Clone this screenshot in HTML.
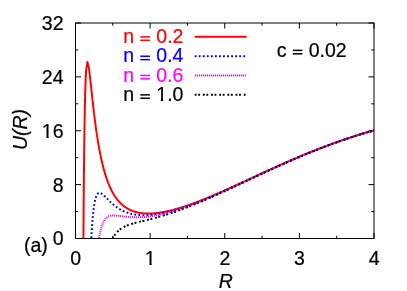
<!DOCTYPE html>
<html><head><meta charset="utf-8"><title>U(R)</title>
<style>html,body{margin:0;padding:0;background:#fff}body{width:407px;height:291px;overflow:hidden}svg{will-change:transform}text{stroke-width:0.22px;paint-order:stroke}</style></head>
<body>
<svg width="407" height="291" viewBox="0 0 407 291" style="display:block;font-family:'Liberation Sans',sans-serif;font-size:19.5px">
<rect width="407" height="291" fill="#fff"/>
<defs><clipPath id="cp"><rect x="75.5" y="23.0" width="298.5" height="216.0"/></clipPath><clipPath id="c1"><path d="M-1 -16H12V-2.1H6.9V1H4.64V-2.1H-1Z"/></clipPath></defs>
<path d="M75.50 238.50 v-5.50 M75.50 23.00 v5.50 M112.81 238.50 v-2.75 M112.81 23.00 v2.75 M150.12 238.50 v-5.50 M150.12 23.00 v5.50 M187.44 238.50 v-2.75 M187.44 23.00 v2.75 M224.75 238.50 v-5.50 M224.75 23.00 v5.50 M262.06 238.50 v-2.75 M262.06 23.00 v2.75 M299.38 238.50 v-5.50 M299.38 23.00 v5.50 M336.69 238.50 v-2.75 M336.69 23.00 v2.75 M374.00 238.50 v-5.50 M374.00 23.00 v5.50 M75.50 238.50 h5.50 M374.00 238.50 h-5.50 M75.50 211.56 h2.75 M374.00 211.56 h-2.75 M75.50 184.62 h5.50 M374.00 184.62 h-5.50 M75.50 157.69 h2.75 M374.00 157.69 h-2.75 M75.50 130.75 h5.50 M374.00 130.75 h-5.50 M75.50 103.81 h2.75 M374.00 103.81 h-2.75 M75.50 76.88 h5.50 M374.00 76.88 h-5.50 M75.50 49.94 h2.75 M374.00 49.94 h-2.75 M75.50 23.00 h5.50 M374.00 23.00 h-5.50" stroke="#000" stroke-width="1" fill="none"/>
<g clip-path="url(#cp)" fill="none" stroke-width="2" stroke-linejoin="round">
<path d="M83.42 239.03 L83.46 233.48 L83.49 228.08 L83.53 222.84 L83.57 217.74 L83.61 212.78 L83.64 207.96 L83.68 203.28 L83.72 198.73 L83.76 194.30 L83.79 190.00 L83.83 185.82 L83.87 181.76 L83.90 177.81 L83.94 173.97 L83.98 170.24 L84.02 166.61 L84.05 163.09 L84.09 159.66 L84.13 156.34 L84.17 153.11 L84.20 149.97 L84.24 146.92 L84.28 143.95 L84.32 141.07 L84.35 138.28 L84.39 135.56 L84.43 132.92 L84.47 130.36 L84.50 127.88 L84.54 125.46 L84.58 123.12 L84.62 120.84 L84.65 118.63 L84.69 116.49 L84.73 114.41 L84.76 112.39 L84.80 110.44 L84.84 108.54 L84.88 106.70 L84.91 104.91 L84.95 103.18 L84.99 101.50 L85.03 99.88 L85.06 98.30 L85.10 96.78 L85.14 95.30 L85.18 93.87 L85.21 92.48 L85.25 91.14 L85.29 89.84 L85.33 88.58 L85.36 87.37 L85.40 86.19 L85.44 85.06 L85.47 83.96 L85.51 82.90 L85.55 81.87 L85.59 80.88 L85.62 79.93 L85.66 79.01 L85.70 78.12 L85.74 77.26 L85.77 76.44 L85.81 75.65 L85.85 74.88 L85.89 74.15 L85.92 73.44 L85.96 72.76 L86.00 72.11 L86.04 71.48 L86.07 70.88 L87.38 61.97 L88.69 66.70 L88.73 66.94 L88.77 67.18 L88.80 67.43 L88.84 67.68 L88.88 67.94 L88.91 68.20 L88.95 68.46 L88.99 68.72 L89.03 68.99 L89.06 69.27 L89.10 69.54 L89.14 69.82 L89.18 70.10 L89.21 70.38 L89.25 70.67 L89.29 70.96 L89.33 71.25 L89.36 71.55 L89.40 71.84 L89.44 72.14 L89.48 72.44 L89.51 72.75 L89.55 73.05 L89.59 73.36 L89.62 73.67 L89.66 73.98 L89.70 74.30 L89.74 74.61 L89.77 74.93 L89.81 75.25 L89.85 75.57 L89.89 75.89 L89.92 76.21 L89.96 76.54 L90.00 76.87 L90.04 77.19 L90.07 77.52 L90.11 77.85 L90.15 78.18 L90.19 78.51 L90.22 78.85 L90.26 79.18 L90.30 79.52 L90.34 79.85 L90.37 80.19 L90.41 80.53 L90.45 80.87 L90.48 81.21 L90.52 81.55 L90.56 81.89 L90.60 82.23 L90.63 82.57 L90.67 82.91 L90.71 83.26 L90.75 83.60 L90.78 83.94 L90.82 84.29 L90.86 84.63 L90.90 84.98 L90.93 85.33 L90.97 85.67 L91.01 86.02 L91.05 86.36 L91.08 86.71 L91.12 87.06 L91.16 87.40 L91.20 87.75 L91.23 88.10 L91.27 88.44 L91.31 88.79 L91.34 89.14 L91.38 89.49 L91.42 89.83 L91.46 90.18 L91.49 90.53 L91.53 90.87 L91.57 91.22 L91.61 91.57 L91.64 91.92 L91.68 92.26 L91.72 92.61 L91.76 92.95 L91.79 93.30 L91.83 93.65 L91.87 93.99 L91.91 94.34 L91.94 94.68 L91.98 95.02 L92.02 95.37 L92.06 95.71 L92.09 96.06 L92.13 96.40 L92.17 96.74 L92.20 97.08 L92.24 97.42 L92.28 97.77 L92.32 98.11 L92.35 98.45 L92.39 98.79 L92.43 99.13 L92.47 99.47 L92.50 99.80 L92.54 100.14 L92.58 100.48 L92.62 100.82 L92.65 101.15 L92.69 101.49 L92.73 101.82 L92.77 102.16 L92.80 102.49 L92.84 102.83 L92.88 103.16 L92.91 103.49 L92.95 103.82 L92.99 104.15 L93.03 104.48 L93.06 104.81 L93.10 105.14 L93.14 105.47 L93.18 105.80 L93.21 106.13 L93.25 106.45 L93.29 106.78 L93.33 107.10 L93.36 107.43 L93.40 107.75 L93.44 108.08 L93.48 108.40 L93.51 108.72 L93.55 109.04 L93.59 109.36 L93.63 109.68 L93.66 110.00 L93.70 110.32 L93.74 110.63 L93.77 110.95 L93.81 111.27 L93.85 111.58 L93.89 111.89 L93.92 112.21 L93.96 112.52 L94.00 112.83 L94.04 113.14 L94.07 113.45 L94.11 113.76 L94.15 114.07 L94.19 114.38 L94.22 114.69 L94.26 114.99 L94.30 115.30 L94.34 115.60 L94.37 115.91 L94.41 116.21 L94.45 116.51 L94.49 116.82 L94.52 117.12 L94.56 117.42 L94.60 117.72 L94.63 118.01 L94.67 118.31 L94.71 118.61 L94.75 118.90 L94.78 119.20 L94.82 119.49 L94.86 119.79 L94.90 120.08 L94.93 120.37 L94.97 120.66 L95.01 120.95 L95.05 121.24 L95.08 121.53 L95.12 121.82 L95.16 122.11 L95.20 122.39 L95.23 122.68 L95.27 122.96 L95.31 123.25 L95.35 123.53 L95.38 123.81 L95.42 124.09 L95.46 124.37 L95.49 124.65 L95.53 124.93 L95.57 125.21 L95.61 125.49 L95.64 125.76 L95.68 126.04 L95.72 126.32 L95.76 126.59 L95.79 126.86 L95.83 127.13 L95.87 127.41 L95.91 127.68 L95.94 127.95 L95.98 128.22 L96.02 128.48 L96.06 128.75 L96.09 129.02 L96.13 129.28 L96.17 129.55 L96.21 129.81 L96.24 130.08 L96.28 130.34 L96.32 130.60 L96.35 130.86 L96.39 131.12 L96.43 131.38 L96.47 131.64 L96.50 131.90 L96.54 132.16 L96.58 132.41 L96.62 132.67 L96.65 132.92 L96.69 133.18 L96.73 133.43 L96.77 133.68 L96.80 133.93 L96.84 134.18 L96.88 134.43 L96.92 134.68 L96.95 134.93 L96.99 135.18 L97.03 135.43 L97.06 135.67 L97.10 135.92 L97.14 136.16 L97.18 136.41 L97.21 136.65 L97.25 136.89 L97.29 137.13 L97.33 137.37 L97.36 137.61 L97.40 137.85 L97.44 138.09 L97.48 138.33 L97.51 138.57 L97.55 138.80 L97.59 139.04 L97.63 139.27 L97.66 139.51 L97.70 139.74 L97.74 139.97 L97.78 140.20 L97.81 140.43 L97.85 140.66 L97.89 140.89 L98.08 142.03 L98.26 143.16 L98.45 144.26 L98.64 145.34 L98.83 146.41 L99.01 147.46 L99.20 148.50 L99.39 149.52 L99.58 150.52 L99.76 151.50 L99.95 152.47 L100.14 153.43 L100.33 154.36 L100.51 155.29 L100.70 156.20 L100.89 157.09 L101.08 157.97 L101.26 158.83 L101.45 159.69 L101.64 160.52 L101.83 161.35 L102.01 162.16 L102.20 162.96 L102.39 163.74 L102.58 164.51 L102.76 165.27 L102.95 166.02 L103.14 166.76 L103.33 167.48 L103.51 168.20 L103.70 168.90 L103.89 169.59 L104.08 170.27 L104.26 170.94 L104.45 171.60 L104.64 172.25 L104.83 172.89 L105.01 173.51 L105.20 174.13 L105.39 174.74 L105.58 175.34 L105.76 175.93 L105.95 176.52 L106.14 177.09 L106.33 177.65 L106.51 178.21 L106.70 178.75 L106.89 179.29 L107.08 179.82 L107.26 180.34 L107.45 180.86 L107.64 181.37 L107.83 181.86 L108.01 182.36 L108.20 182.84 L108.39 183.32 L108.58 183.79 L108.76 184.25 L108.95 184.71 L109.14 185.15 L109.32 185.60 L109.51 186.03 L109.70 186.46 L109.89 186.88 L110.08 187.30 L110.26 187.71 L110.45 188.12 L110.64 188.52 L110.82 188.91 L111.01 189.30 L111.20 189.68 L111.39 190.05 L111.58 190.42 L111.76 190.79 L111.95 191.15 L112.14 191.50 L112.33 191.85 L112.51 192.20 L112.70 192.54 L112.89 192.87 L113.07 193.20 L113.26 193.53 L113.45 193.85 L113.64 194.16 L113.83 194.48 L114.01 194.78 L114.20 195.09 L114.39 195.38 L114.57 195.68 L114.76 195.97 L114.95 196.25 L115.14 196.54 L115.33 196.81 L115.51 197.09 L115.70 197.36 L115.89 197.63 L116.07 197.89 L116.26 198.15 L116.45 198.40 L116.64 198.65 L116.82 198.90 L117.01 199.15 L117.20 199.39 L117.39 199.63 L117.58 199.86 L117.76 200.09 L117.95 200.32 L118.14 200.54 L118.33 200.77 L118.51 200.98 L118.70 201.20 L118.89 201.41 L119.08 201.62 L119.26 201.83 L119.45 202.03 L119.64 202.23 L119.82 202.43 L120.01 202.63 L120.20 202.82 L120.39 203.01 L120.57 203.20 L120.76 203.38 L120.95 203.56 L121.14 203.74 L121.33 203.92 L121.51 204.09 L121.70 204.27 L121.89 204.43 L122.08 204.60 L122.26 204.77 L122.45 204.93 L122.64 205.09 L122.83 205.25 L123.01 205.40 L123.20 205.56 L123.39 205.71 L123.57 205.86 L123.76 206.00 L123.95 206.15 L124.14 206.29 L124.32 206.43 L124.51 206.57 L124.70 206.71 L124.89 206.84 L125.08 206.98 L125.26 207.11 L125.45 207.24 L125.64 207.36 L125.83 207.49 L126.01 207.61 L126.20 207.73 L126.39 207.85 L126.57 207.97 L126.76 208.09 L126.95 208.20 L127.14 208.31 L127.32 208.43 L127.51 208.54 L127.70 208.64 L127.89 208.75 L128.07 208.85 L128.26 208.96 L128.45 209.06 L128.64 209.16 L128.82 209.26 L129.01 209.35 L129.20 209.45 L129.39 209.54 L129.57 209.64 L129.76 209.73 L129.95 209.82 L130.14 209.91 L130.32 209.99 L130.51 210.08 L130.70 210.16 L130.89 210.24 L131.07 210.33 L131.26 210.41 L131.45 210.48 L131.64 210.56 L131.82 210.64 L132.01 210.71 L132.20 210.79 L132.39 210.86 L132.57 210.93 L132.76 211.00 L132.95 211.07 L133.14 211.14 L133.32 211.20 L133.51 211.27 L133.70 211.33 L133.89 211.40 L134.07 211.46 L134.26 211.52 L134.45 211.58 L134.64 211.64 L134.82 211.69 L135.01 211.75 L135.20 211.80 L136.20 212.08 L137.20 212.33 L138.20 212.55 L139.20 212.75 L140.20 212.92 L141.19 213.07 L142.19 213.19 L143.19 213.30 L144.19 213.38 L145.19 213.45 L146.19 213.50 L147.19 213.53 L148.19 213.54 L149.19 213.54 L150.19 213.52 L151.19 213.49 L152.19 213.44 L153.18 213.38 L154.18 213.30 L155.18 213.21 L156.18 213.11 L157.18 213.00 L158.18 212.88 L159.18 212.74 L160.18 212.59 L161.18 212.44 L162.18 212.27 L163.18 212.10 L164.18 211.91 L165.17 211.72 L166.17 211.52 L167.17 211.30 L168.17 211.08 L169.17 210.86 L170.17 210.62 L171.17 210.38 L172.17 210.13 L173.17 209.87 L174.17 209.61 L175.17 209.34 L176.17 209.06 L177.16 208.77 L178.16 208.48 L179.16 208.19 L180.16 207.89 L181.16 207.58 L182.16 207.27 L183.16 206.95 L184.16 206.62 L185.16 206.29 L186.16 205.96 L187.16 205.62 L188.16 205.28 L189.15 204.93 L190.15 204.58 L191.15 204.22 L192.15 203.86 L193.15 203.50 L194.15 203.13 L195.15 202.76 L196.15 202.38 L197.15 202.00 L198.15 201.62 L199.15 201.23 L200.15 200.84 L201.14 200.45 L202.14 200.05 L203.14 199.65 L204.14 199.25 L205.14 198.85 L206.14 198.44 L207.14 198.03 L208.14 197.61 L209.14 197.20 L210.14 196.78 L211.14 196.36 L212.14 195.94 L213.13 195.51 L214.13 195.08 L215.13 194.65 L216.13 194.22 L217.13 193.79 L218.13 193.35 L219.13 192.92 L220.13 192.48 L221.13 192.04 L222.13 191.60 L223.13 191.15 L224.13 190.71 L225.12 190.26 L226.12 189.81 L227.12 189.36 L228.12 188.91 L229.12 188.46 L230.12 188.01 L231.12 187.56 L232.12 187.10 L233.12 186.65 L234.12 186.19 L235.12 185.73 L236.12 185.28 L237.11 184.82 L238.11 184.36 L239.11 183.90 L240.11 183.44 L241.11 182.98 L242.11 182.52 L243.11 182.06 L244.11 181.59 L245.11 181.13 L246.11 180.67 L247.11 180.21 L248.11 179.75 L249.10 179.28 L250.10 178.82 L251.10 178.36 L252.10 177.89 L253.10 177.43 L254.10 176.97 L255.10 176.51 L256.10 176.05 L257.10 175.58 L258.10 175.12 L259.10 174.66 L260.10 174.20 L261.09 173.74 L262.09 173.28 L263.09 172.82 L264.09 172.36 L265.09 171.90 L266.09 171.44 L267.09 170.99 L268.09 170.53 L269.09 170.08 L270.09 169.62 L271.09 169.17 L272.09 168.71 L273.08 168.26 L274.08 167.81 L275.08 167.36 L276.08 166.91 L277.08 166.46 L278.08 166.01 L279.08 165.56 L280.08 165.12 L281.08 164.67 L282.08 164.23 L283.08 163.78 L284.08 163.34 L285.07 162.90 L286.07 162.46 L287.07 162.03 L288.07 161.59 L289.07 161.15 L290.07 160.72 L291.07 160.29 L292.07 159.85 L293.07 159.42 L294.07 158.99 L295.07 158.57 L296.07 158.14 L297.06 157.72 L298.06 157.29 L299.06 156.87 L300.06 156.45 L301.06 156.03 L302.06 155.62 L303.06 155.20 L304.06 154.79 L305.06 154.37 L306.06 153.96 L307.06 153.55 L308.06 153.15 L309.05 152.74 L310.05 152.34 L311.05 151.93 L312.05 151.53 L313.05 151.13 L314.05 150.74 L315.05 150.34 L316.05 149.95 L317.05 149.55 L318.05 149.16 L319.05 148.77 L320.05 148.39 L321.04 148.00 L322.04 147.62 L323.04 147.24 L324.04 146.86 L325.04 146.48 L326.04 146.10 L327.04 145.73 L328.04 145.35 L329.04 144.98 L330.04 144.62 L331.04 144.25 L332.04 143.88 L333.03 143.52 L334.03 143.16 L335.03 142.80 L336.03 142.44 L337.03 142.09 L338.03 141.73 L339.03 141.38 L340.03 141.03 L341.03 140.68 L342.03 140.34 L343.03 139.99 L344.03 139.65 L345.02 139.31 L346.02 138.97 L347.02 138.64 L348.02 138.30 L349.02 137.97 L350.02 137.64 L351.02 137.31 L352.02 136.98 L353.02 136.66 L354.02 136.34 L355.02 136.01 L356.02 135.70 L357.01 135.38 L358.01 135.06 L359.01 134.75 L360.01 134.44 L361.01 134.13 L362.01 133.82 L363.01 133.52 L364.01 133.21 L365.01 132.91 L366.01 132.61 L367.01 132.32 L368.01 132.02 L369.00 131.73 L370.00 131.43 L371.00 131.14 L372.00 130.86 L373.00 130.57 L374.00 130.29" stroke="#ff0000"/>
<path d="M91.12 242.11 L91.16 241.34 L91.20 240.59 L91.23 239.85 L91.27 239.12 L91.31 238.40 L91.34 237.70 L91.38 237.00 L91.42 236.31 L91.46 235.63 L91.49 234.96 L91.53 234.29 L91.57 233.64 L91.61 233.00 L91.64 232.37 L91.68 231.74 L91.72 231.13 L91.76 230.52 L91.79 229.92 L91.83 229.33 L91.87 228.75 L91.91 228.17 L91.94 227.61 L91.98 227.05 L92.02 226.50 L92.06 225.95 L92.09 225.42 L92.13 224.89 L92.17 224.37 L92.20 223.86 L92.24 223.35 L92.28 222.85 L92.32 222.36 L92.35 221.88 L92.39 221.40 L92.43 220.93 L92.47 220.46 L92.50 220.01 L92.54 219.55 L92.58 219.11 L92.62 218.67 L92.65 218.24 L92.69 217.81 L92.73 217.39 L92.77 216.98 L92.80 216.57 L92.84 216.17 L92.88 215.77 L92.91 215.38 L92.95 214.99 L92.99 214.61 L93.03 214.24 L93.06 213.87 L93.10 213.50 L93.14 213.14 L93.18 212.79 L93.21 212.44 L93.25 212.10 L93.29 211.76 L93.33 211.42 L93.36 211.09 L93.40 210.77 L93.44 210.45 L93.48 210.13 L93.51 209.82 L93.55 209.52 L93.59 209.22 L93.63 208.92 L93.66 208.63 L93.70 208.34 L93.74 208.05 L93.77 207.77 L93.81 207.50 L93.85 207.22 L93.89 206.96 L93.92 206.69 L93.96 206.43 L94.00 206.18 L94.04 205.92 L94.07 205.67 L94.11 205.43 L94.15 205.19 L94.19 204.95 L94.22 204.72 L94.26 204.49 L94.30 204.26 L94.34 204.03 L94.37 203.81 L94.41 203.60 L94.45 203.38 L94.49 203.17 L94.52 202.96 L94.56 202.76 L94.60 202.56 L94.63 202.36 L94.67 202.17 L94.71 201.98 L94.75 201.79 L94.78 201.60 L94.82 201.42 L94.86 201.24 L94.90 201.06 L94.93 200.89 L94.97 200.71 L95.01 200.54 L95.05 200.38 L95.08 200.21 L95.12 200.05 L95.16 199.90 L95.20 199.74 L95.23 199.59 L95.27 199.44 L95.31 199.29 L95.35 199.14 L95.38 199.00 L95.42 198.86 L95.46 198.72 L95.49 198.58 L95.53 198.45 L95.57 198.31 L95.61 198.18 L95.64 198.06 L95.68 197.93 L95.72 197.81 L95.76 197.69 L95.79 197.57 L95.83 197.45 L95.87 197.34 L95.91 197.22 L95.94 197.11 L95.98 197.00 L96.02 196.90 L96.06 196.79 L96.09 196.69 L96.13 196.59 L96.17 196.49 L96.21 196.39 L96.24 196.29 L96.28 196.20 L96.32 196.11 L96.35 196.02 L96.39 195.93 L96.43 195.84 L96.47 195.75 L96.50 195.67 L96.54 195.59 L96.58 195.51 L96.62 195.43 L96.65 195.35 L96.69 195.28 L96.73 195.20 L96.77 195.13 L96.80 195.06 L96.84 194.99 L96.88 194.92 L96.92 194.85 L96.95 194.79 L96.99 194.72 L97.03 194.66 L97.06 194.60 L97.10 194.54 L97.14 194.48 L97.18 194.42 L97.21 194.36 L97.25 194.31 L97.29 194.26 L97.33 194.20 L97.36 194.15 L97.40 194.10 L97.44 194.05 L97.48 194.01 L97.51 193.96 L97.55 193.92 L97.59 193.87 L97.63 193.83 L97.66 193.79 L97.70 193.75 L97.74 193.71 L97.78 193.67 L97.81 193.63 L97.85 193.59 L97.89 193.56 L98.08 193.40 L98.26 193.26 L98.45 193.15 L98.64 193.05 L98.83 192.98 L99.01 192.93 L99.20 192.89 L99.39 192.87 L99.58 192.87 L99.76 192.88 L99.95 192.90 L100.14 192.94 L100.33 192.99 L100.51 193.05 L100.70 193.12 L100.89 193.20 L101.08 193.30 L101.26 193.39 L101.45 193.50 L101.64 193.62 L101.83 193.74 L102.01 193.87 L102.20 194.00 L102.39 194.14 L102.58 194.29 L102.76 194.44 L102.95 194.59 L103.14 194.75 L103.33 194.91 L103.51 195.08 L103.70 195.25 L103.89 195.42 L104.08 195.60 L104.26 195.77 L104.45 195.95 L104.64 196.14 L104.83 196.32 L105.01 196.50 L105.20 196.69 L105.39 196.88 L105.58 197.07 L105.76 197.26 L105.95 197.45 L106.14 197.64 L106.33 197.83 L106.51 198.02 L106.70 198.21 L106.89 198.40 L107.08 198.59 L107.26 198.79 L107.45 198.98 L107.64 199.17 L107.83 199.36 L108.01 199.55 L108.20 199.74 L108.39 199.93 L108.58 200.12 L108.76 200.31 L108.95 200.49 L109.14 200.68 L109.32 200.87 L109.51 201.05 L109.70 201.23 L109.89 201.42 L110.08 201.60 L110.26 201.78 L110.45 201.96 L110.64 202.14 L110.82 202.31 L111.01 202.49 L111.20 202.67 L111.39 202.84 L111.58 203.01 L111.76 203.18 L111.95 203.35 L112.14 203.52 L112.33 203.69 L112.51 203.85 L112.70 204.02 L112.89 204.18 L113.07 204.34 L113.26 204.50 L113.45 204.66 L113.64 204.82 L113.83 204.97 L114.01 205.13 L114.20 205.28 L114.39 205.43 L114.57 205.58 L114.76 205.73 L114.95 205.88 L115.14 206.03 L115.33 206.17 L115.51 206.31 L115.70 206.46 L115.89 206.60 L116.07 206.73 L116.26 206.87 L116.45 207.01 L116.64 207.14 L116.82 207.28 L117.01 207.41 L117.20 207.54 L117.39 207.67 L117.58 207.79 L117.76 207.92 L117.95 208.04 L118.14 208.17 L118.33 208.29 L118.51 208.41 L118.70 208.53 L118.89 208.65 L119.08 208.76 L119.26 208.88 L119.45 208.99 L119.64 209.11 L119.82 209.22 L120.01 209.33 L120.20 209.44 L120.39 209.54 L120.57 209.65 L120.76 209.75 L120.95 209.86 L121.14 209.96 L121.33 210.06 L121.51 210.16 L121.70 210.26 L121.89 210.36 L122.08 210.45 L122.26 210.55 L122.45 210.64 L122.64 210.73 L122.83 210.82 L123.01 210.91 L123.20 211.00 L123.39 211.09 L123.57 211.18 L123.76 211.26 L123.95 211.34 L124.14 211.43 L124.32 211.51 L124.51 211.59 L124.70 211.67 L124.89 211.75 L125.08 211.83 L125.26 211.90 L125.45 211.98 L125.64 212.05 L125.83 212.12 L126.01 212.20 L126.20 212.27 L126.39 212.34 L126.57 212.41 L126.76 212.47 L126.95 212.54 L127.14 212.61 L127.32 212.67 L127.51 212.74 L127.70 212.80 L127.89 212.86 L128.07 212.92 L128.26 212.98 L128.45 213.04 L128.64 213.10 L128.82 213.16 L129.01 213.21 L129.20 213.27 L129.39 213.32 L129.57 213.37 L129.76 213.43 L129.95 213.48 L130.14 213.53 L130.32 213.58 L130.51 213.63 L130.70 213.68 L130.89 213.72 L131.07 213.77 L131.26 213.81 L131.45 213.86 L131.64 213.90 L131.82 213.95 L132.01 213.99 L132.20 214.03 L132.39 214.07 L132.57 214.11 L132.76 214.15 L132.95 214.19 L133.14 214.22 L133.32 214.26 L133.51 214.30 L133.70 214.33 L133.89 214.36 L134.07 214.40 L134.26 214.43 L134.45 214.46 L134.64 214.49 L134.82 214.52 L135.01 214.55 L135.20 214.58 L136.20 214.72 L137.20 214.85 L138.20 214.95 L139.20 215.03 L140.20 215.10 L141.19 215.15 L142.19 215.19 L143.19 215.20 L144.19 215.21 L145.19 215.20 L146.19 215.17 L147.19 215.13 L148.19 215.08 L149.19 215.01 L150.19 214.94 L151.19 214.85 L152.19 214.75 L153.18 214.64 L154.18 214.51 L155.18 214.38 L156.18 214.24 L157.18 214.08 L158.18 213.92 L159.18 213.75 L160.18 213.57 L161.18 213.38 L162.18 213.18 L163.18 212.97 L164.18 212.76 L165.17 212.54 L166.17 212.31 L167.17 212.07 L168.17 211.83 L169.17 211.58 L170.17 211.32 L171.17 211.05 L172.17 210.78 L173.17 210.50 L174.17 210.22 L175.17 209.93 L176.17 209.64 L177.16 209.34 L178.16 209.03 L179.16 208.72 L180.16 208.40 L181.16 208.08 L182.16 207.75 L183.16 207.42 L184.16 207.08 L185.16 206.74 L186.16 206.40 L187.16 206.05 L188.16 205.69 L189.15 205.34 L190.15 204.97 L191.15 204.61 L192.15 204.24 L193.15 203.86 L194.15 203.48 L195.15 203.10 L196.15 202.72 L197.15 202.33 L198.15 201.94 L199.15 201.55 L200.15 201.15 L201.14 200.75 L202.14 200.34 L203.14 199.94 L204.14 199.53 L205.14 199.12 L206.14 198.70 L207.14 198.29 L208.14 197.87 L209.14 197.45 L210.14 197.02 L211.14 196.60 L212.14 196.17 L213.13 195.74 L214.13 195.31 L215.13 194.87 L216.13 194.44 L217.13 194.00 L218.13 193.56 L219.13 193.12 L220.13 192.67 L221.13 192.23 L222.13 191.78 L223.13 191.34 L224.13 190.89 L225.12 190.44 L226.12 189.99 L227.12 189.53 L228.12 189.08 L229.12 188.63 L230.12 188.17 L231.12 187.71 L232.12 187.26 L233.12 186.80 L234.12 186.34 L235.12 185.88 L236.12 185.42 L237.11 184.96 L238.11 184.50 L239.11 184.03 L240.11 183.57 L241.11 183.11 L242.11 182.65 L243.11 182.18 L244.11 181.72 L245.11 181.25 L246.11 180.79 L247.11 180.33 L248.11 179.86 L249.10 179.40 L250.10 178.93 L251.10 178.47 L252.10 178.00 L253.10 177.54 L254.10 177.07 L255.10 176.61 L256.10 176.15 L257.10 175.68 L258.10 175.22 L259.10 174.76 L260.10 174.29 L261.09 173.83 L262.09 173.37 L263.09 172.91 L264.09 172.45 L265.09 171.99 L266.09 171.53 L267.09 171.07 L268.09 170.61 L269.09 170.16 L270.09 169.70 L271.09 169.24 L272.09 168.79 L273.08 168.34 L274.08 167.88 L275.08 167.43 L276.08 166.98 L277.08 166.53 L278.08 166.08 L279.08 165.63 L280.08 165.19 L281.08 164.74 L282.08 164.29 L283.08 163.85 L284.08 163.41 L285.07 162.97 L286.07 162.53 L287.07 162.09 L288.07 161.65 L289.07 161.21 L290.07 160.78 L291.07 160.34 L292.07 159.91 L293.07 159.48 L294.07 159.05 L295.07 158.62 L296.07 158.20 L297.06 157.77 L298.06 157.35 L299.06 156.92 L300.06 156.50 L301.06 156.08 L302.06 155.67 L303.06 155.25 L304.06 154.84 L305.06 154.42 L306.06 154.01 L307.06 153.60 L308.06 153.19 L309.05 152.79 L310.05 152.38 L311.05 151.98 L312.05 151.58 L313.05 151.18 L314.05 150.78 L315.05 150.38 L316.05 149.99 L317.05 149.59 L318.05 149.20 L319.05 148.81 L320.05 148.43 L321.04 148.04 L322.04 147.66 L323.04 147.27 L324.04 146.89 L325.04 146.52 L326.04 146.14 L327.04 145.76 L328.04 145.39 L329.04 145.02 L330.04 144.65 L331.04 144.28 L332.04 143.92 L333.03 143.55 L334.03 143.19 L335.03 142.83 L336.03 142.48 L337.03 142.12 L338.03 141.77 L339.03 141.41 L340.03 141.06 L341.03 140.71 L342.03 140.37 L343.03 140.02 L344.03 139.68 L345.02 139.34 L346.02 139.00 L347.02 138.67 L348.02 138.33 L349.02 138.00 L350.02 137.67 L351.02 137.34 L352.02 137.01 L353.02 136.69 L354.02 136.36 L355.02 136.04 L356.02 135.72 L357.01 135.40 L358.01 135.09 L359.01 134.78 L360.01 134.46 L361.01 134.16 L362.01 133.85 L363.01 133.54 L364.01 133.24 L365.01 132.94 L366.01 132.64 L367.01 132.34 L368.01 132.04 L369.00 131.75 L370.00 131.46 L371.00 131.17 L372.00 130.88 L373.00 130.59 L374.00 130.31" stroke="#0000ff" stroke-dasharray="1.8 2.25"/>
<path d="M98.45 242.03 L98.64 240.76 L98.83 239.55 L99.01 238.39 L99.20 237.28 L99.39 236.23 L99.58 235.22 L99.76 234.25 L99.95 233.33 L100.14 232.46 L100.33 231.62 L100.51 230.82 L100.70 230.05 L100.89 229.32 L101.08 228.62 L101.26 227.96 L101.45 227.32 L101.64 226.71 L101.83 226.13 L102.01 225.58 L102.20 225.05 L102.39 224.54 L102.58 224.06 L102.76 223.60 L102.95 223.16 L103.14 222.74 L103.33 222.35 L103.51 221.96 L103.70 221.60 L103.89 221.25 L104.08 220.92 L104.26 220.61 L104.45 220.31 L104.64 220.02 L104.83 219.75 L105.01 219.49 L105.20 219.25 L105.39 219.01 L105.58 218.79 L105.76 218.58 L105.95 218.38 L106.14 218.19 L106.33 218.00 L106.51 217.83 L106.70 217.67 L106.89 217.51 L107.08 217.37 L107.26 217.23 L107.45 217.10 L107.64 216.97 L107.83 216.86 L108.01 216.75 L108.20 216.64 L108.39 216.54 L108.58 216.45 L108.76 216.36 L108.95 216.28 L109.14 216.21 L109.32 216.14 L109.51 216.07 L109.70 216.01 L109.89 215.95 L110.08 215.90 L110.26 215.85 L110.45 215.80 L110.64 215.76 L110.82 215.72 L111.01 215.69 L111.20 215.65 L111.39 215.62 L111.58 215.60 L111.76 215.58 L111.95 215.55 L112.14 215.54 L112.33 215.52 L112.51 215.51 L112.70 215.50 L112.89 215.49 L113.07 215.48 L113.26 215.48 L113.45 215.47 L113.64 215.47 L113.83 215.47 L114.01 215.47 L114.20 215.48 L114.39 215.48 L114.57 215.49 L114.76 215.50 L114.95 215.50 L115.14 215.52 L115.33 215.53 L115.51 215.54 L115.70 215.55 L115.89 215.57 L116.07 215.58 L116.26 215.60 L116.45 215.61 L116.64 215.63 L116.82 215.65 L117.01 215.67 L117.20 215.69 L117.39 215.71 L117.58 215.73 L117.76 215.75 L117.95 215.77 L118.14 215.79 L118.33 215.81 L118.51 215.84 L118.70 215.86 L118.89 215.88 L119.08 215.91 L119.26 215.93 L119.45 215.95 L119.64 215.98 L119.82 216.00 L120.01 216.03 L120.20 216.05 L120.39 216.08 L120.57 216.10 L120.76 216.13 L120.95 216.15 L121.14 216.18 L121.33 216.20 L121.51 216.23 L121.70 216.25 L121.89 216.28 L122.08 216.30 L122.26 216.32 L122.45 216.35 L122.64 216.37 L122.83 216.40 L123.01 216.42 L123.20 216.45 L123.39 216.47 L123.57 216.49 L123.76 216.52 L123.95 216.54 L124.14 216.56 L124.32 216.59 L124.51 216.61 L124.70 216.63 L124.89 216.65 L125.08 216.68 L125.26 216.70 L125.45 216.72 L125.64 216.74 L125.83 216.76 L126.01 216.78 L126.20 216.80 L126.39 216.82 L126.57 216.84 L126.76 216.86 L126.95 216.88 L127.14 216.90 L127.32 216.92 L127.51 216.94 L127.70 216.95 L127.89 216.97 L128.07 216.99 L128.26 217.00 L128.45 217.02 L128.64 217.04 L128.82 217.05 L129.01 217.07 L129.20 217.08 L129.39 217.10 L129.57 217.11 L129.76 217.13 L129.95 217.14 L130.14 217.15 L130.32 217.16 L130.51 217.18 L130.70 217.19 L130.89 217.20 L131.07 217.21 L131.26 217.22 L131.45 217.23 L131.64 217.24 L131.82 217.25 L132.01 217.26 L132.20 217.27 L132.39 217.28 L132.57 217.29 L132.76 217.30 L132.95 217.30 L133.14 217.31 L133.32 217.32 L133.51 217.32 L133.70 217.33 L133.89 217.33 L134.07 217.34 L134.26 217.34 L134.45 217.35 L134.64 217.35 L134.82 217.35 L135.01 217.36 L135.20 217.36 L136.20 217.37 L137.20 217.36 L138.20 217.35 L139.20 217.32 L140.20 217.28 L141.19 217.24 L142.19 217.18 L143.19 217.11 L144.19 217.03 L145.19 216.94 L146.19 216.84 L147.19 216.74 L148.19 216.62 L149.19 216.49 L150.19 216.36 L151.19 216.21 L152.19 216.06 L153.18 215.90 L154.18 215.73 L155.18 215.55 L156.18 215.36 L157.18 215.17 L158.18 214.97 L159.18 214.76 L160.18 214.54 L161.18 214.32 L162.18 214.09 L163.18 213.85 L164.18 213.61 L165.17 213.36 L166.17 213.10 L167.17 212.84 L168.17 212.57 L169.17 212.29 L170.17 212.01 L171.17 211.73 L172.17 211.44 L173.17 211.14 L174.17 210.84 L175.17 210.53 L176.17 210.22 L177.16 209.90 L178.16 209.58 L179.16 209.25 L180.16 208.92 L181.16 208.58 L182.16 208.24 L183.16 207.89 L184.16 207.54 L185.16 207.19 L186.16 206.83 L187.16 206.47 L188.16 206.11 L189.15 205.74 L190.15 205.36 L191.15 204.99 L192.15 204.61 L193.15 204.23 L194.15 203.84 L195.15 203.45 L196.15 203.06 L197.15 202.66 L198.15 202.26 L199.15 201.86 L200.15 201.45 L201.14 201.05 L202.14 200.64 L203.14 200.22 L204.14 199.81 L205.14 199.39 L206.14 198.97 L207.14 198.55 L208.14 198.12 L209.14 197.69 L210.14 197.26 L211.14 196.83 L212.14 196.40 L213.13 195.96 L214.13 195.53 L215.13 195.09 L216.13 194.65 L217.13 194.21 L218.13 193.76 L219.13 193.32 L220.13 192.87 L221.13 192.42 L222.13 191.97 L223.13 191.52 L224.13 191.07 L225.12 190.61 L226.12 190.16 L227.12 189.70 L228.12 189.25 L229.12 188.79 L230.12 188.33 L231.12 187.87 L232.12 187.41 L233.12 186.95 L234.12 186.49 L235.12 186.03 L236.12 185.56 L237.11 185.10 L238.11 184.63 L239.11 184.17 L240.11 183.70 L241.11 183.24 L242.11 182.77 L243.11 182.31 L244.11 181.84 L245.11 181.38 L246.11 180.91 L247.11 180.44 L248.11 179.98 L249.10 179.51 L250.10 179.04 L251.10 178.58 L252.10 178.11 L253.10 177.64 L254.10 177.18 L255.10 176.71 L256.10 176.25 L257.10 175.78 L258.10 175.32 L259.10 174.85 L260.10 174.39 L261.09 173.92 L262.09 173.46 L263.09 173.00 L264.09 172.54 L265.09 172.08 L266.09 171.62 L267.09 171.16 L268.09 170.70 L269.09 170.24 L270.09 169.78 L271.09 169.32 L272.09 168.87 L273.08 168.41 L274.08 167.96 L275.08 167.51 L276.08 167.05 L277.08 166.60 L278.08 166.15 L279.08 165.70 L280.08 165.25 L281.08 164.81 L282.08 164.36 L283.08 163.92 L284.08 163.47 L285.07 163.03 L286.07 162.59 L287.07 162.15 L288.07 161.71 L289.07 161.27 L290.07 160.84 L291.07 160.40 L292.07 159.97 L293.07 159.54 L294.07 159.11 L295.07 158.68 L296.07 158.25 L297.06 157.83 L298.06 157.40 L299.06 156.98 L300.06 156.56 L301.06 156.14 L302.06 155.72 L303.06 155.30 L304.06 154.89 L305.06 154.47 L306.06 154.06 L307.06 153.65 L308.06 153.24 L309.05 152.83 L310.05 152.43 L311.05 152.02 L312.05 151.62 L313.05 151.22 L314.05 150.82 L315.05 150.43 L316.05 150.03 L317.05 149.64 L318.05 149.25 L319.05 148.86 L320.05 148.47 L321.04 148.08 L322.04 147.70 L323.04 147.31 L324.04 146.93 L325.04 146.55 L326.04 146.18 L327.04 145.80 L328.04 145.43 L329.04 145.06 L330.04 144.69 L331.04 144.32 L332.04 143.95 L333.03 143.59 L334.03 143.23 L335.03 142.87 L336.03 142.51 L337.03 142.15 L338.03 141.80 L339.03 141.45 L340.03 141.09 L341.03 140.75 L342.03 140.40 L343.03 140.05 L344.03 139.71 L345.02 139.37 L346.02 139.03 L347.02 138.69 L348.02 138.36 L349.02 138.03 L350.02 137.70 L351.02 137.37 L352.02 137.04 L353.02 136.71 L354.02 136.39 L355.02 136.07 L356.02 135.75 L357.01 135.43 L358.01 135.12 L359.01 134.80 L360.01 134.49 L361.01 134.18 L362.01 133.87 L363.01 133.57 L364.01 133.26 L365.01 132.96 L366.01 132.66 L367.01 132.36 L368.01 132.07 L369.00 131.77 L370.00 131.48 L371.00 131.19 L372.00 130.90 L373.00 130.61 L374.00 130.33" stroke="#ff00ff" stroke-dasharray="1.05 0.95"/>
<path d="M110.82 242.53 L111.01 242.07 L111.20 241.63 L111.39 241.20 L111.58 240.77 L111.76 240.36 L111.95 239.96 L112.14 239.57 L112.33 239.19 L112.51 238.82 L112.70 238.46 L112.89 238.10 L113.07 237.76 L113.26 237.42 L113.45 237.10 L113.64 236.78 L113.83 236.47 L114.01 236.16 L114.20 235.87 L114.39 235.58 L114.57 235.30 L114.76 235.02 L114.95 234.76 L115.14 234.49 L115.33 234.24 L115.51 233.99 L115.70 233.74 L115.89 233.51 L116.07 233.27 L116.26 233.05 L116.45 232.82 L116.64 232.61 L116.82 232.40 L117.01 232.19 L117.20 231.99 L117.39 231.79 L117.58 231.59 L117.76 231.41 L117.95 231.22 L118.14 231.04 L118.33 230.86 L118.51 230.69 L118.70 230.52 L118.89 230.35 L119.08 230.19 L119.26 230.03 L119.45 229.88 L119.64 229.72 L119.82 229.57 L120.01 229.43 L120.20 229.28 L120.39 229.14 L120.57 229.01 L120.76 228.87 L120.95 228.74 L121.14 228.61 L121.33 228.48 L121.51 228.36 L121.70 228.24 L121.89 228.12 L122.08 228.00 L122.26 227.88 L122.45 227.77 L122.64 227.66 L122.83 227.55 L123.01 227.44 L123.20 227.34 L123.39 227.23 L123.57 227.13 L123.76 227.03 L123.95 226.93 L124.14 226.84 L124.32 226.74 L124.51 226.65 L124.70 226.56 L124.89 226.47 L125.08 226.38 L125.26 226.29 L125.45 226.20 L125.64 226.12 L125.83 226.03 L126.01 225.95 L126.20 225.87 L126.39 225.79 L126.57 225.71 L126.76 225.63 L126.95 225.56 L127.14 225.48 L127.32 225.41 L127.51 225.33 L127.70 225.26 L127.89 225.19 L128.07 225.12 L128.26 225.05 L128.45 224.98 L128.64 224.91 L128.82 224.85 L129.01 224.78 L129.20 224.71 L129.39 224.65 L129.57 224.59 L129.76 224.52 L129.95 224.46 L130.14 224.40 L130.32 224.34 L130.51 224.28 L130.70 224.22 L130.89 224.16 L131.07 224.10 L131.26 224.04 L131.45 223.98 L131.64 223.92 L131.82 223.87 L132.01 223.81 L132.20 223.75 L132.39 223.70 L132.57 223.64 L132.76 223.59 L132.95 223.54 L133.14 223.48 L133.32 223.43 L133.51 223.38 L133.70 223.32 L133.89 223.27 L134.07 223.22 L134.26 223.17 L134.45 223.12 L134.64 223.07 L134.82 223.01 L135.01 222.96 L135.20 222.91 L136.20 222.65 L137.20 222.39 L138.20 222.14 L139.20 221.89 L140.20 221.65 L141.19 221.41 L142.19 221.16 L143.19 220.92 L144.19 220.68 L145.19 220.43 L146.19 220.19 L147.19 219.94 L148.19 219.70 L149.19 219.45 L150.19 219.19 L151.19 218.94 L152.19 218.68 L153.18 218.42 L154.18 218.15 L155.18 217.88 L156.18 217.61 L157.18 217.34 L158.18 217.06 L159.18 216.77 L160.18 216.49 L161.18 216.20 L162.18 215.90 L163.18 215.60 L164.18 215.30 L165.17 215.00 L166.17 214.69 L167.17 214.37 L168.17 214.05 L169.17 213.73 L170.17 213.41 L171.17 213.08 L172.17 212.74 L173.17 212.41 L174.17 212.07 L175.17 211.72 L176.17 211.37 L177.16 211.02 L178.16 210.67 L179.16 210.31 L180.16 209.95 L181.16 209.58 L182.16 209.21 L183.16 208.84 L184.16 208.47 L185.16 208.09 L186.16 207.71 L187.16 207.32 L188.16 206.93 L189.15 206.54 L190.15 206.15 L191.15 205.75 L192.15 205.35 L193.15 204.95 L194.15 204.55 L195.15 204.14 L196.15 203.73 L197.15 203.32 L198.15 202.90 L199.15 202.48 L200.15 202.06 L201.14 201.64 L202.14 201.22 L203.14 200.79 L204.14 200.36 L205.14 199.93 L206.14 199.50 L207.14 199.06 L208.14 198.63 L209.14 198.19 L210.14 197.75 L211.14 197.31 L212.14 196.86 L213.13 196.42 L214.13 195.97 L215.13 195.52 L216.13 195.07 L217.13 194.62 L218.13 194.17 L219.13 193.72 L220.13 193.26 L221.13 192.80 L222.13 192.35 L223.13 191.89 L224.13 191.43 L225.12 190.97 L226.12 190.51 L227.12 190.04 L228.12 189.58 L229.12 189.12 L230.12 188.65 L231.12 188.18 L232.12 187.72 L233.12 187.25 L234.12 186.78 L235.12 186.32 L236.12 185.85 L237.11 185.38 L238.11 184.91 L239.11 184.44 L240.11 183.97 L241.11 183.50 L242.11 183.03 L243.11 182.56 L244.11 182.09 L245.11 181.62 L246.11 181.15 L247.11 180.68 L248.11 180.21 L249.10 179.73 L250.10 179.26 L251.10 178.79 L252.10 178.32 L253.10 177.85 L254.10 177.38 L255.10 176.92 L256.10 176.45 L257.10 175.98 L258.10 175.51 L259.10 175.04 L260.10 174.58 L261.09 174.11 L262.09 173.64 L263.09 173.18 L264.09 172.71 L265.09 172.25 L266.09 171.79 L267.09 171.32 L268.09 170.86 L269.09 170.40 L270.09 169.94 L271.09 169.48 L272.09 169.02 L273.08 168.57 L274.08 168.11 L275.08 167.65 L276.08 167.20 L277.08 166.75 L278.08 166.29 L279.08 165.84 L280.08 165.39 L281.08 164.94 L282.08 164.50 L283.08 164.05 L284.08 163.60 L285.07 163.16 L286.07 162.72 L287.07 162.27 L288.07 161.83 L289.07 161.40 L290.07 160.96 L291.07 160.52 L292.07 160.09 L293.07 159.65 L294.07 159.22 L295.07 158.79 L296.07 158.36 L297.06 157.93 L298.06 157.51 L299.06 157.08 L300.06 156.66 L301.06 156.24 L302.06 155.82 L303.06 155.40 L304.06 154.98 L305.06 154.57 L306.06 154.16 L307.06 153.74 L308.06 153.33 L309.05 152.93 L310.05 152.52 L311.05 152.11 L312.05 151.71 L313.05 151.31 L314.05 150.91 L315.05 150.51 L316.05 150.11 L317.05 149.72 L318.05 149.33 L319.05 148.94 L320.05 148.55 L321.04 148.16 L322.04 147.78 L323.04 147.39 L324.04 147.01 L325.04 146.63 L326.04 146.25 L327.04 145.88 L328.04 145.50 L329.04 145.13 L330.04 144.76 L331.04 144.39 L332.04 144.02 L333.03 143.66 L334.03 143.30 L335.03 142.93 L336.03 142.58 L337.03 142.22 L338.03 141.86 L339.03 141.51 L340.03 141.16 L341.03 140.81 L342.03 140.46 L343.03 140.12 L344.03 139.77 L345.02 139.43 L346.02 139.09 L347.02 138.75 L348.02 138.42 L349.02 138.08 L350.02 137.75 L351.02 137.42 L352.02 137.09 L353.02 136.77 L354.02 136.44 L355.02 136.12 L356.02 135.80 L357.01 135.48 L358.01 135.17 L359.01 134.85 L360.01 134.54 L361.01 134.23 L362.01 133.92 L363.01 133.62 L364.01 133.31 L365.01 133.01 L366.01 132.71 L367.01 132.41 L368.01 132.11 L369.00 131.82 L370.00 131.53 L371.00 131.24 L372.00 130.95 L373.00 130.66 L374.00 130.37" stroke="#000" stroke-dasharray="1.9 1.55 1.9 2.82" stroke-dashoffset="3.9"/>
</g>
<rect x="75.5" y="23.0" width="298.5" height="215.5" fill="none" stroke="#000" stroke-width="1"/>
<text x="63.50" y="245.40" text-anchor="end" fill="#000" stroke="#000"  style="">0</text>
<text x="63.50" y="191.53" text-anchor="end" fill="#000" stroke="#000"  style="">8</text>
<g transform="translate(41.80,137.65)"><text x="0" y="0" fill="#000" stroke="#000" clip-path="url(#c1)">1</text></g>
<text x="63.50" y="137.65" text-anchor="end" fill="#000" stroke="#000"  style="">6</text>
<text x="63.50" y="83.78" text-anchor="end" fill="#000" stroke="#000"  style="">24</text>
<text x="63.50" y="29.90" text-anchor="end" fill="#000" stroke="#000"  style="">32</text>
<text x="75.60" y="264.70" text-anchor="middle" fill="#000" stroke="#000"  style="">0</text>
<g transform="translate(144.79,264.70)"><text x="0" y="0" fill="#000" stroke="#000" clip-path="url(#c1)">1</text></g>
<text x="224.85" y="264.70" text-anchor="middle" fill="#000" stroke="#000"  style="">2</text>
<text x="299.48" y="264.70" text-anchor="middle" fill="#000" stroke="#000"  style="">3</text>
<text x="374.10" y="264.70" text-anchor="middle" fill="#000" stroke="#000"  style="">4</text>
<text x="225.90" y="287.80" text-anchor="middle" fill="#000" stroke="#000"  style="font-style:italic">R</text>
<text transform="translate(26.5,129.5) rotate(-90)" text-anchor="middle" stroke="#000" style="font-style:italic">U(R)</text>
<text x="23.90" y="252.20" text-anchor="start" fill="#000" stroke="#000"  style="">(a)</text>
<text x="276.80" y="57.00" text-anchor="start" fill="#000" stroke="#000"  style="">c</text>
<rect x="292.82" y="49.65" width="9.6" height="1.50" fill="#000"/><rect x="292.82" y="53.05" width="9.6" height="1.50" fill="#000"/>
<text x="308.78" y="57.00" text-anchor="start" fill="#000" stroke="#000"  style="">0.02</text>
<text x="123.21" y="43.05" text-anchor="start" fill="#ff0000" stroke="#ff0000"  style="">n</text>
<rect x="140.31" y="36.15" width="9.6" height="1.50" fill="#ff0000"/><rect x="140.31" y="39.55" width="9.6" height="1.50" fill="#ff0000"/>
<text x="183.40" y="43.05" text-anchor="end" fill="#ff0000" stroke="#ff0000"  style="">0.2</text>
<path d="M194.70 36.85 H246.6" stroke="#ff0000" stroke-width="2" fill="none" />
<text x="123.21" y="62.40" text-anchor="start" fill="#0000ff" stroke="#0000ff"  style="">n</text>
<rect x="140.31" y="55.50" width="9.6" height="1.50" fill="#0000ff"/><rect x="140.31" y="58.90" width="9.6" height="1.50" fill="#0000ff"/>
<text x="183.40" y="62.40" text-anchor="end" fill="#0000ff" stroke="#0000ff"  style="">0.4</text>
<path d="M194.70 56.20 H246.6" stroke="#0000ff" stroke-width="2" fill="none" stroke-dasharray="1.8 2.25"/>
<text x="123.21" y="81.60" text-anchor="start" fill="#ff00ff" stroke="#ff00ff"  style="">n</text>
<rect x="140.31" y="74.70" width="9.6" height="1.50" fill="#ff00ff"/><rect x="140.31" y="78.10" width="9.6" height="1.50" fill="#ff00ff"/>
<text x="183.40" y="81.60" text-anchor="end" fill="#ff00ff" stroke="#ff00ff"  style="">0.6</text>
<path d="M194.93 75.40 H246.6" stroke="#ff00ff" stroke-width="2" fill="none" stroke-dasharray="1.05 0.95"/>
<text x="123.21" y="101.00" text-anchor="start" fill="#000" stroke="#000"  style="">n</text>
<rect x="140.31" y="94.10" width="9.6" height="1.50" fill="#000"/><rect x="140.31" y="97.50" width="9.6" height="1.50" fill="#000"/>
<g transform="translate(156.28,101.00)"><text x="0" y="0" fill="#000" stroke="#000" clip-path="url(#c1)">1</text></g>
<text x="183.40" y="101.00" text-anchor="end" fill="#000" stroke="#000"  style="">.0</text>
<path d="M194.70 94.80 H246.6" stroke="#000" stroke-width="2" fill="none" stroke-dasharray="1.9 1.55 1.9 2.82"/>
</svg>
</body></html>
